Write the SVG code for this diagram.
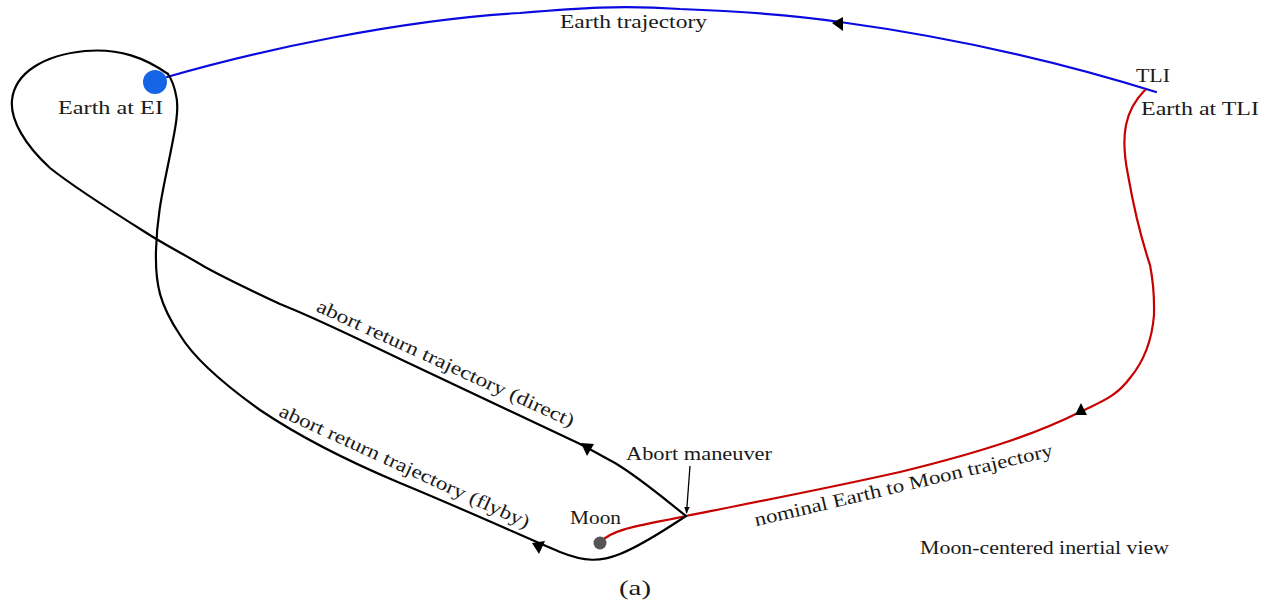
<svg xmlns="http://www.w3.org/2000/svg" width="1273" height="606" viewBox="0 0 1273 606">
<style>
.lbl{font-family:"Liberation Serif","Times New Roman",serif;font-size:19px;fill:#1a1a1a}
.trj{fill:none;stroke-width:2.2;stroke-linecap:round;stroke-linejoin:round}
.blk{stroke:#000}
.blu{stroke:#0a0ae0}
.red{stroke:#c80000}
.ah{fill:#000;stroke:none}
</style>
<defs>
<marker id="tip" viewBox="0 0 10 10" refX="9" refY="5" markerWidth="7" markerHeight="7" orient="auto" markerUnits="userSpaceOnUse">
<path d="M0,1 L10,5 L0,9 z" fill="#000"/>
</marker>
</defs>
<rect width="1273" height="606" fill="#fff"/>
<g id="connectors">
<path id="earth-trajectory" class="trj blu" d="M167,77 C260,50 400,20 520,13 C580,8 620,5 680,9 C760,12 800,16 840,22 C950,37 1060,62 1156,92"/>
<path id="nominal" class="trj red" d="M1145,90 C1125,110 1120,135 1128,175 C1135,215 1145,250 1150,265 C1155,290 1154,305 1154,315 C1152,340 1145,360 1130,378 C1115,398 1100,402 1080,412 C1040,432 990,450 900,472 C820,490 740,505 686,516 C650,524 612,528 601,542"/>
<path id="direct" class="trj blk" d="M686,516 C662,497 640,478 615,463 C600,455 590,449 578,443 L400,359 C360,340 320,320 280,304 C250,290 225,278 205,267 C180,252 165,245 145,232 C110,210 75,188 50,168 C25,145 10,120 12,100 C15,72 45,55 85,51 C120,48 145,58 168,74"/>
<path id="flyby" class="trj blk" d="M686,516 C665,530 640,546 620,554 C600,562 585,562 560,552 C520,535 470,512 400,483 C350,462 300,437 260,410 C225,385 195,360 180,335 C160,305 155,285 156,250 C157,215 163,190 168,165 C174,135 180,110 176,95 C174,85 172,80 168,74"/>
<polygon class="ah" points="832,23 843,17 843,31"/>
<polygon class="ah" points="1081,403 1075,415 1087,415"/>
<polygon class="ah" points="581,443 594,444 587,456"/>
<polygon class="ah" points="532,543 545,541 539,554"/>
<line id="abort-arrow" x1="690" y1="466" x2="686.5" y2="513" stroke="#000" stroke-width="1.3" marker-end="url(#tip)"/>
</g>
<g id="earth-ei">
<circle cx="155" cy="82" r="12" fill="#1565e6"/>
<text class="lbl" x="58" y="114" textLength="105" lengthAdjust="spacingAndGlyphs">Earth at EI</text>
</g>
<g id="moon">
<circle cx="600" cy="543" r="6.5" fill="#555"/>
<text class="lbl" x="570" y="524" textLength="51" lengthAdjust="spacingAndGlyphs">Moon</text>
</g>
<g id="tli">
<text class="lbl" x="1136" y="82" textLength="34" lengthAdjust="spacingAndGlyphs">TLI</text>
<text class="lbl" x="1141" y="115" textLength="118" lengthAdjust="spacingAndGlyphs">Earth at TLI</text>
</g>
<g id="abort">
<text class="lbl" x="626" y="460" textLength="146" lengthAdjust="spacingAndGlyphs">Abort maneuver</text>
</g>
<g id="labels">
<text class="lbl" x="560" y="28" textLength="147" lengthAdjust="spacingAndGlyphs">Earth trajectory</text>
<text class="lbl" text-anchor="middle" transform="translate(443,369) rotate(24.5)" textLength="281" lengthAdjust="spacingAndGlyphs">abort return trajectory (direct)</text>
<text class="lbl" text-anchor="middle" transform="translate(402,472) rotate(24.5)" textLength="273" lengthAdjust="spacingAndGlyphs">abort return trajectory (flyby)</text>
<text class="lbl" text-anchor="middle" transform="translate(905,491) rotate(-13.3)" textLength="306" lengthAdjust="spacingAndGlyphs">nominal Earth to Moon trajectory</text>
<text class="lbl" x="920" y="554" textLength="249" lengthAdjust="spacingAndGlyphs">Moon-centered inertial view</text>
<text class="lbl" x="619" y="595" style="font-size:22px" textLength="32" lengthAdjust="spacingAndGlyphs">(a)</text>
</g>
</svg>
